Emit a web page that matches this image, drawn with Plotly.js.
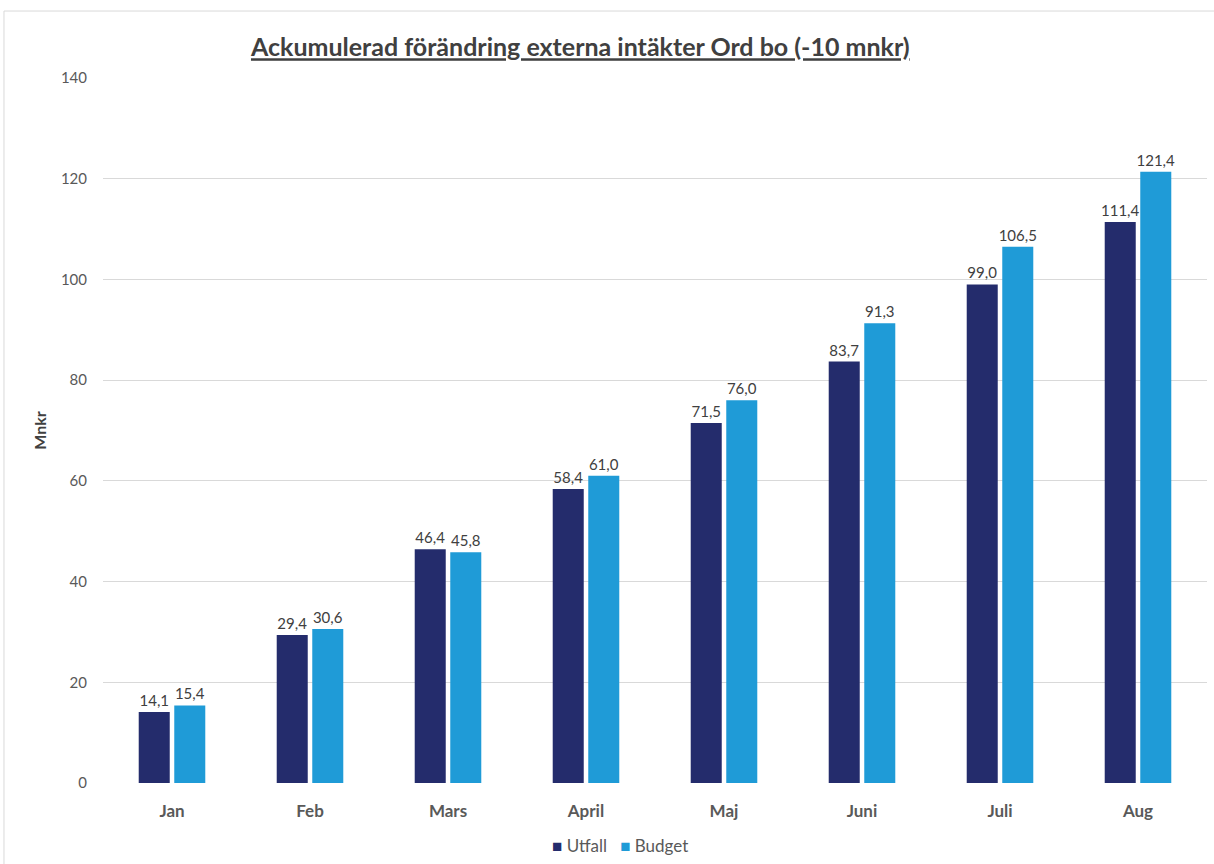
<!DOCTYPE html>
<html>
<head>
<meta charset="utf-8">
<script src="https://cdn.plot.ly/plotly-3.0.1.min.js"></script>
<style>html,body{margin:0;padding:0;background:#fff;}#chart{width:1214px;height:864px;}</style>
</head>
<body>
<div id="chart"></div>
<script>
const months = ["Jan", "Feb", "Mars", "April", "Maj", "Juni", "Juli", "Aug"];
const utfall = [14.1, 29.4, 46.4, 58.4, 71.5, 83.7, 99.0, 111.4];
const budget = [15.4, 30.6, 45.8, 61.0, 76.0, 91.3, 106.5, 121.4];
const yTicks = [0, 20, 40, 60, 80, 100, 120, 140];
const seriesNames = ["Utfall", "Budget"];
const seriesColors = ["#242C6C", "#1F9BD7"];

const FONT = "Lato, 'Open Sans', sans-serif";
const textFont = {family: FONT, size: 15, color: "#404040"};

const traces = [
  {type: "bar", name: seriesNames[0], x: months, y: utfall,
   marker: {color: seriesColors[0], line: {color: "rgba(0,0,0,0)", width: 10}},
   texttemplate: "%{y:.1f}", textposition: "outside", textfont: textFont, constraintext: "none",
   cliponaxis: false, hoverinfo: "x+y"},
  {type: "bar", name: seriesNames[1], x: months, y: budget,
   marker: {color: seriesColors[1], line: {color: "rgba(0,0,0,0)", width: 10}},
   texttemplate: "%{y:.1f}", textposition: "outside", textfont: textFont, constraintext: "none",
   cliponaxis: false, hoverinfo: "x+y"}
];

const legendText = seriesNames.map((n, i) =>
  "<span style='color:" + seriesColors[i] + "'>■</span> " + n).join("   ");

const layout = {
  width: 1214, height: 864,
  margin: {l: 103, r: 7, t: 78, b: 81},
  paper_bgcolor: "#fff", plot_bgcolor: "#fff",
  separators: ",.",
  barmode: "group", bargap: 0.485, bargroupgap: 0.127,
  showlegend: false,
  font: {family: FONT, color: "#595959"},
  title: {text: "<u>Ackumulerad förändring externa intäkter Ord bo (-10 mnkr)</u>",
          font: {family: FONT, size: 25, color: "#404040", weight: "bold"},
          x: 0.478, xanchor: "center", y: 0.945, yanchor: "middle"},
  xaxis: {type: "category", tickfont: {family: FONT, size: 17, color: "#595959", weight: "bold"},
          showgrid: false, zeroline: false, showline: false, ticks: "", ticklabelstandoff: 16,
          automargin: false},
  yaxis: {range: [0, 140], tickvals: yTicks, ticktext: yTicks.map(String),
          tickfont: {family: FONT, size: 15, color: "#595959"},
          showgrid: true, gridcolor: "#d9d9d9", gridwidth: 1, zeroline: false,
          showline: false, ticks: "", ticklabelstandoff: 15, automargin: false,
          title: {text: "Mnkr", font: {family: FONT, size: 16, color: "#404040", weight: "bold"}, standoff: 10}},
  annotations: [{text: legendText, xref: "paper", yref: "paper", x: 0.468, y: -0.089,
                 xanchor: "center", yanchor: "middle", showarrow: false,
                 font: {family: FONT, size: 17, color: "#595959"}}],
  shapes: [{type: "rect", xref: "paper", yref: "paper", x0: -0.0897, x1: 1.01, y0: -0.2, y1: 1.095,
            line: {color: "#d9d9d9", width: 1}, fillcolor: "rgba(0,0,0,0)", layer: "below"}]
};

Plotly.newPlot("chart", traces, layout, {displayModeBar: false, staticPlot: true});
</script>
</body>
</html>
